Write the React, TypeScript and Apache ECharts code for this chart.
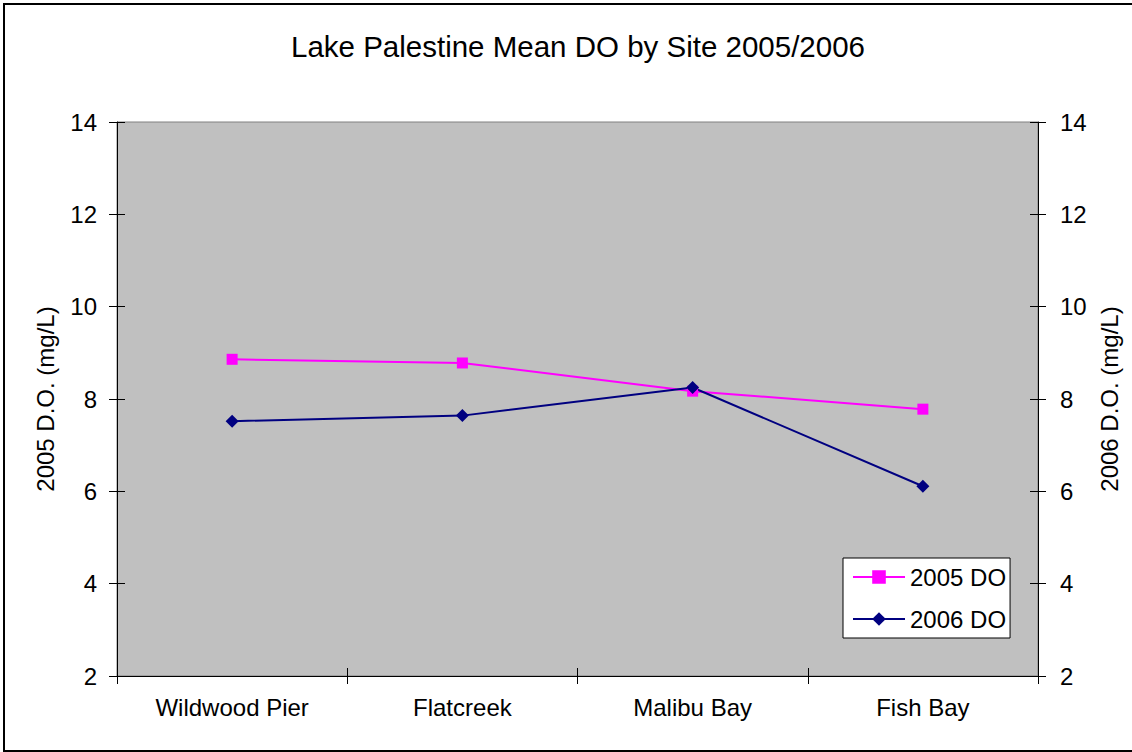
import React, { useEffect, useRef } from "react";
import * as echarts from "echarts";

const categories = ["Wildwood Pier", "Flatcreek", "Malibu Bay", "Fish Bay"];
const do2005 = [8.86, 8.78, 8.17, 7.78];
const do2006 = [7.52, 7.64, 8.25, 6.11];
const titleText = "Lake Palestine Mean DO by Site 2005/2006";
const leftAxisName = "2005 D.O. (mg/L)";
const rightAxisName = "2006 D.O. (mg/L)";
const yMin = 2;
const yMax = 14;
const yStep = 2;

const FONT = "'Liberation Sans', Arial, sans-serif";
const FS = 24;

export default function App() {
  const ref = useRef<HTMLDivElement>(null);
  useEffect(() => {
    if (!ref.current) return;
    const chart = echarts.init(ref.current, undefined, { renderer: "svg" });
    const valAxisBase = {
      type: "value" as const,
      min: yMin,
      max: yMax,
      interval: yStep,
      splitLine: { show: false },
    };
    const option: any = {
      animation: false,
      backgroundColor: "#ffffff",
      textStyle: { fontFamily: FONT },
      title: {
        text: titleText,
        left: 286,
        top: 26,
        textStyle: { fontFamily: FONT, fontSize: 29.5, fontWeight: "normal", color: "#000" },
      },
      graphic: [
        {
          type: "rect",
          shape: { x: 4, y: 4, width: 1140, height: 747 },
          style: { fill: "none", stroke: "#000", lineWidth: 2 },
          silent: true,
        },
      ],
      grid: {
        left: 117,
        right: 94,
        top: 122,
        bottom: 76,
        show: true,
        backgroundColor: "#C0C0C0",
        borderColor: "#808080",
        borderWidth: 1,
      },
      legend: {
        orient: "vertical",
        left: 843,
        top: 558,
        backgroundColor: "#ffffff",
        borderColor: "#000000",
        borderWidth: 1,
        padding: [7, 4, 7, 9],
        itemGap: 18,
        itemWidth: 52,
        itemHeight: 17,
        textStyle: { fontFamily: FONT, fontSize: FS, color: "#000", lineHeight: 24, padding: [0, 0, 0, 0] },
        data: ["2005 DO", "2006 DO"],
      },
      xAxis: [
        {
          type: "category",
          data: categories,
          position: "bottom",
          boundaryGap: true,
          axisLine: { show: true, lineStyle: { color: "#000", width: 1 } },
          axisTick: { show: true, length: 8, lineStyle: { color: "#000" } },
          axisLabel: { fontFamily: FONT, fontSize: FS, color: "#000", margin: 19 },
        },
        {
          type: "category",
          data: categories,
          position: "bottom",
          boundaryGap: true,
          axisLine: { show: false },
          axisTick: { show: true, inside: true, length: 8, lineStyle: { color: "#000" } },
          axisLabel: { show: false },
        },
      ],
      yAxis: [
        {
          ...valAxisBase,
          position: "left",
          name: leftAxisName,
          nameLocation: "middle",
          nameGap: 60,
          nameRotate: 90,
          nameTextStyle: { fontFamily: FONT, fontSize: FS, color: "#000" },
          axisLine: { show: true, lineStyle: { color: "#000", width: 1 } },
          axisTick: { show: true, length: 8, lineStyle: { color: "#000" } },
          axisLabel: { fontFamily: FONT, fontSize: FS, color: "#000", margin: 20 },
        },
        {
          ...valAxisBase,
          position: "right",
          name: rightAxisName,
          nameLocation: "middle",
          nameGap: 52,
          nameRotate: 90,
          nameTextStyle: { fontFamily: FONT, fontSize: FS, color: "#000" },
          axisLine: { show: true, lineStyle: { color: "#000", width: 1 } },
          axisTick: { show: true, length: 8, lineStyle: { color: "#000" } },
          axisLabel: { fontFamily: FONT, fontSize: FS, color: "#000", margin: 22 },
        },
        {
          ...valAxisBase,
          position: "left",
          axisLine: { show: false },
          axisTick: { show: true, inside: true, length: 8, lineStyle: { color: "#000" } },
          axisLabel: { show: false },
        },
        {
          ...valAxisBase,
          position: "right",
          axisLine: { show: false },
          axisTick: { show: true, inside: true, length: 8, lineStyle: { color: "#000" } },
          axisLabel: { show: false },
        },
      ],
      series: [
        {
          name: "2005 DO",
          type: "line",
          yAxisIndex: 0,
          data: do2005,
          symbol: "rect",
          symbolSize: 11,
          itemStyle: { color: "#FF00FF" },
          lineStyle: { color: "#FF00FF", width: 2 },
        },
        {
          name: "2006 DO",
          type: "line",
          yAxisIndex: 1,
          data: do2006,
          symbol: "diamond",
          symbolSize: 13,
          itemStyle: { color: "#000080" },
          lineStyle: { color: "#000080", width: 2 },
        },
      ],
    };
    chart.setOption(option);
    return () => chart.dispose();
  }, []);
  return (
    <div
      ref={ref}
      style={{ position: "fixed", left: 0, top: 0, width: 1132, height: 752 }}
    />
  );
}
